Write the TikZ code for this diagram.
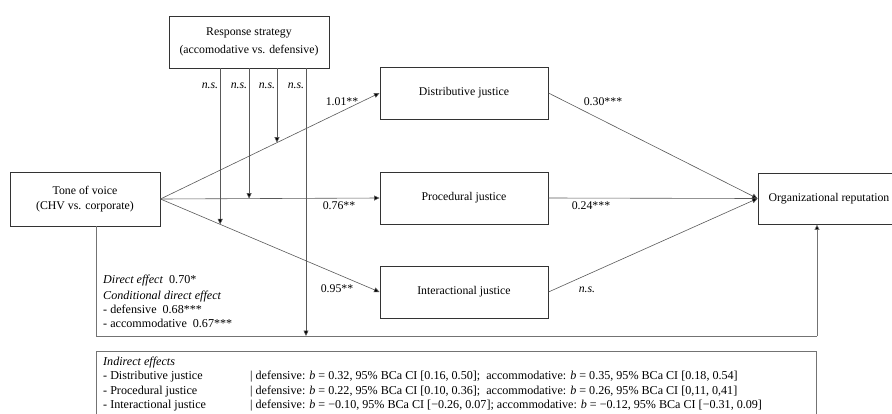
\documentclass[tikz,border=0pt]{standalone}
\usepackage{fontspec}
\setmainfont{Liberation Serif}
\usetikzlibrary{arrows.meta,calc}
\begin{document}
\begin{tikzpicture}[x=1pt,y=-1pt,
  box/.style={draw=black!80, line width=0.9pt, inner sep=0pt, align=center, font=\fontsize{11.8}{18}\selectfont},
  conn/.style={draw=black!65, line width=0.6pt},
  arr/.style={conn, -{Triangle[length=5.5pt,width=5pt,fill=black]}},
  frame/.style={draw=black!55, line width=0.7pt},
  lbl/.style={inner sep=0pt, font=\fontsize{11.8}{14}\selectfont},
  txt/.style={inner sep=0pt, anchor=west, text height=8pt, text depth=2.5pt, font=\fontsize{12.1}{14}\selectfont}
]
\useasboundingbox (0,0) rectangle (892,413);

% nodes
\node[box, minimum width=160pt, minimum height=52pt] (rs) at (249,42) {Response strategy\\(accomodative vs. defensive)};
\node[box, minimum width=150pt, minimum height=54pt, font=\fontsize{11.8}{15.5}\selectfont] (tone) at (85,199) {Tone of voice\\(CHV vs. corporate)};
\node[box, minimum width=168pt, minimum height=52pt] (dj) at (464,93) {Distributive justice};
\node[box, minimum width=168pt, minimum height=52pt] (pj) at (464,198) {Procedural justice};
\node[box, minimum width=168pt, minimum height=52pt] (ij) at (464,292) {Interactional justice};
\node[box, minimum width=142pt, minimum height=51pt] (org) at (829,198.5) {Organizational reputation};

% main paths
\draw[arr] (tone.east) -- (dj.west);
\draw[arr] (tone.east) -- (pj.west);
\draw[arr] (tone.east) -- (ij.west);
\draw[arr] (dj.east) -- (org.west);
\draw[arr] (pj.east) -- (org.west);
\draw[arr] (ij.east) -- (org.west);

% moderation targets
\coordinate (m4) at ($(tone.east)!{(277-160)/220}!(dj.west)$);
\coordinate (m3) at ($(tone.east)!{(249-160)/220}!(pj.west)$);
\coordinate (m2) at ($(tone.east)!{(220-160)/220}!(ij.west)$);
\coordinate (d1) at (96,336);
\coordinate (d2) at (817,336);
\coordinate (m1) at (306,336);

% direct effect path
\draw[frame] (tone.south -| d1) -- (d1) -- (d2);
\draw[frame, -{Triangle[length=5.5pt,width=5pt,fill=black]}] (d2) -- (org.south -| d2);

% moderation lines
\draw[arr] (m2 |- rs.south) -- (m2);
\draw[arr] (m3 |- rs.south) -- (m3);
\draw[arr] (m4 |- rs.south) -- (m4);
\draw[arr] (m1 |- rs.south) -- (m1);

% n.s. labels
\node[lbl] (ns1) at (210,86) {\textit{n.s.}};
\node[lbl] (ns2) at (239,86) {\textit{n.s.}};
\node[lbl] (ns3) at (267,86) {\textit{n.s.}};
\node[lbl] (ns4) at (296,86) {\textit{n.s.}};

% path coefficients
\node[lbl] (c1) at (342,102) {1.01**};
\node[lbl] (c2) at (339,206) {0.76**};
\node[lbl] (c3) at (337,289) {0.95**};
\node[lbl] (c4) at (603,102) {0.30***};
\node[lbl] (c5) at (591,206) {0.24***};
\node[lbl] (c6) at (587,290) {\textit{n.s.}};

% direct effect text
\node[txt] (de1) at (103,281) {\textit{Direct effect}\ \ 0.70*};
\node[txt] (de2) at (103,296.5) {\textit{Conditional direct effect}};
\node[txt] (de3) at (103,310.5) {- defensive\ \ 0.68***};
\node[txt] (de4) at (103,324.5) {- accommodative\ \ 0.67***};

% indirect effects box
\node[draw=black!55, line width=0.7pt, inner sep=0pt, minimum width=720pt, minimum height=70pt, anchor=north west] (ind) at (96,351) {};
\node[txt] (ie0) at (103,362.5) {\textit{Indirect effects}};
\node[txt] (ie1) at (103,377) {- Distributive justice};
\node[txt] (ie2) at (103,391.5) {- Procedural justice};
\node[txt] (ie3) at (103,406) {- Interactional justice};
\node[txt] (iv1) at (250,377) {| defensive: \textit{b} = 0.32, 95\% BCa CI [0.16, 0.50];\ \ accommodative: \textit{b} = 0.35, 95\% BCa CI [0.18, 0.54]};
\node[txt] (iv2) at (250,391.5) {| defensive: \textit{b} = 0.22, 95\% BCa CI [0.10, 0.36];\ \ accommodative: \textit{b} = 0.26, 95\% BCa CI [0,11, 0,41]};
\node[txt] (iv3) at (250,406) {| defensive: \textit{b} = −0.10, 95\% BCa CI [−0.26, 0.07]; accommodative: \textit{b} = −0.12, 95\% BCa CI [−0.31, 0.09]};
\end{tikzpicture}
\end{document}
